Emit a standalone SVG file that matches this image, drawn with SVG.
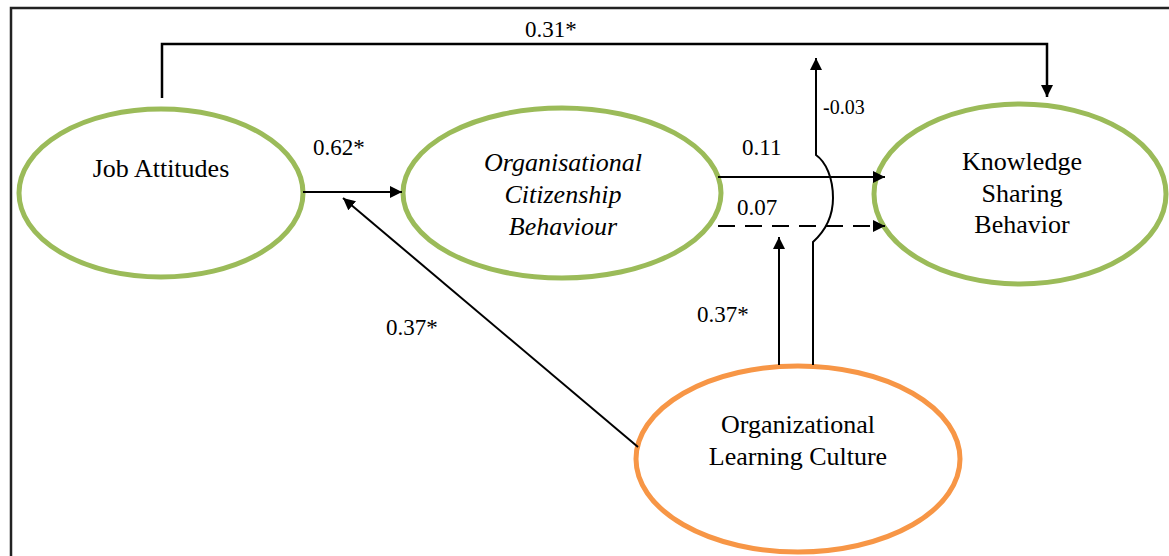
<svg xmlns="http://www.w3.org/2000/svg" width="1169" height="556" viewBox="0 0 1169 556">
<defs>
<marker id="ah" viewBox="0 0 12 12" refX="12" refY="6" markerWidth="12" markerHeight="12" markerUnits="userSpaceOnUse" orient="auto">
<path d="M0,0 L12,6 L0,12 Z" fill="#000"/>
</marker>
</defs>
<rect x="0" y="0" width="1169" height="556" fill="#fff"/>
<path d="M11,556 V8 H1169" fill="none" stroke="#222" stroke-width="2.5"/>
<g id="job-attitudes">
<ellipse cx="161" cy="193" rx="142" ry="84" fill="#fff" stroke="#9BBB59" stroke-width="5"/>
<text x="161" y="177" font-family="Liberation Serif" font-size="26" text-anchor="middle">Job Attitudes</text>
</g>
<g id="ocb">
<ellipse cx="562" cy="193" rx="159" ry="85" fill="#fff" stroke="#9BBB59" stroke-width="5"/>
<text x="563" y="171" font-family="Liberation Serif" font-size="26" text-anchor="middle" font-style="italic">Organisational</text>
<text x="563" y="203" font-family="Liberation Serif" font-size="26" text-anchor="middle" font-style="italic">Citizenship</text>
<text x="563" y="235" font-family="Liberation Serif" font-size="26" text-anchor="middle" font-style="italic">Behaviour</text>
</g>
<g id="ksb">
<ellipse cx="1020" cy="194" rx="146" ry="90" fill="#fff" stroke="#9BBB59" stroke-width="5"/>
<text x="1022" y="170" font-family="Liberation Serif" font-size="26" text-anchor="middle">Knowledge</text>
<text x="1022" y="202" font-family="Liberation Serif" font-size="26" text-anchor="middle">Sharing</text>
<text x="1022" y="233" font-family="Liberation Serif" font-size="26" text-anchor="middle">Behavior</text>
</g>
<g id="olc">
<ellipse cx="798" cy="459" rx="162" ry="93" fill="#fff" stroke="#F79646" stroke-width="5"/>
<text x="798" y="433" font-family="Liberation Serif" font-size="26" text-anchor="middle">Organizational</text>
<text x="798" y="465" font-family="Liberation Serif" font-size="26" text-anchor="middle">Learning Culture</text>
</g>
<g id="connectors" fill="none" stroke="#000" stroke-width="2">
<path d="M162,98 V44 H1047 V97" stroke-width="2.5" marker-end="url(#ah)"/>
<path d="M303,192 H402" marker-end="url(#ah)"/>
<path d="M638,447 L343,198" marker-end="url(#ah)"/>
<path d="M718,177 H885" marker-end="url(#ah)"/>
<path d="M718,226 H885" stroke-dasharray="17,10" marker-end="url(#ah)"/>
<path d="M779,365 V237" marker-end="url(#ah)"/>
<path d="M813,365 V242 C824,232 833,218 833,198 C833,178 826,162 816,155 V58" marker-end="url(#ah)"/>
</g>
<g id="labels">
<text x="525" y="37" font-family="Liberation Serif" font-size="23">0.31*</text>
<text x="313" y="155" font-family="Liberation Serif" font-size="23">0.62*</text>
<text x="742" y="155" font-family="Liberation Serif" font-size="23">0.11</text>
<text x="737" y="215" font-family="Liberation Serif" font-size="23">0.07</text>
<text x="823" y="114" font-family="Liberation Serif" font-size="20">-0.03</text>
<text x="697" y="322" font-family="Liberation Serif" font-size="23">0.37*</text>
<text x="386" y="335" font-family="Liberation Serif" font-size="23">0.37*</text>
</g>
</svg>
